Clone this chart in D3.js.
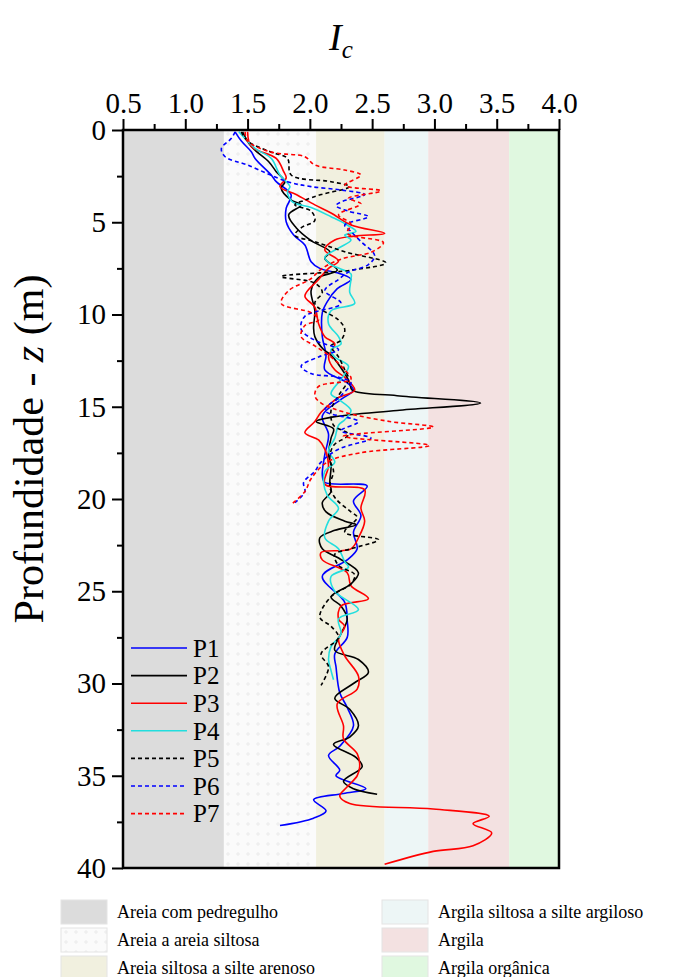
<!DOCTYPE html>
<html>
<head>
<meta charset="utf-8">
<script src="https://cdn.jsdelivr.net/npm/d3@7"></script>
<style>
  body { margin: 0; background: #fff; }
  text { font-family: "Liberation Serif", "Times New Roman", serif; fill: #000; }
</style>
</head>
<body>
<div id="chart"></div>
<script>
// soil behaviour zones (Ic limits)
const zoneNames = ["Areia com pedregulho", "Areia a areia siltosa", "Areia siltosa a silte arenoso",
    "Argila siltosa a silte argiloso", "Argila", "Argila orgânica"];
const zoneLimits = [0.5, 1.31, 2.05, 2.60, 2.95, 3.60, 4.0];
const zoneColors = ["#dcdcdc", "#fbfbfb", "#f1f0df", "#edf6f6", "#f3e1e1", "#e0f8e0"];

const xTicks = [0.5, 1.0, 1.5, 2.0, 2.5, 3.0, 3.5, 4.0];
const yTicks = [0, 5, 10, 15, 20, 25, 30, 35, 40];

const seriesNames = ["P1", "P2", "P3", "P4", "P5", "P6", "P7"];
const seriesColors = ["#0000ff", "#000000", "#ff0000", "#22dede", "#000000", "#0000ff", "#ff0000"];
const seriesDashed = [false, false, false, false, true, true, true];

// [depth z (m), Ic]
const p1 = [[0.1,1.40],[0.6,1.45],[1.18,1.53],[1.54,1.56],[2.44,1.69],[2.8,1.73],[3.52,1.85],[4.24,1.81],[4.97,1.81],[5.69,1.87],[6.23,1.96],[7.14,2.01],[7.5,2.08],[7.8,2.25],[8.1,2.33],[8.6,2.22],[9.3,2.14],[9.9,2.10],[11.2,2.10],[12.2,2.13],[13.0,2.12],[13.7,2.30],[14.1,2.35],[14.6,2.25],[15.5,2.10],[16.5,2.15],[17.6,2.12],[18.7,2.10],[19.1,2.12],[19.3,2.46],[20.1,2.35],[20.9,2.41],[21.8,2.35],[22.7,2.38],[23.3,2.30],[24.2,2.10],[25.6,2.28],[26.6,2.30],[27.5,2.30],[28.4,2.20],[29.1,2.21],[30.5,2.24],[31.3,2.30],[32.3,2.35],[33.4,2.24],[33.9,2.15],[34.7,2.24],[35.0,2.21],[35.7,2.45],[35.96,2.27],[36.3,2.03],[36.9,2.13],[37.3,2.03],[37.7,1.76]];
const p2 = [[0.1,1.46],[0.9,1.53],[1.72,1.67],[2.26,1.73],[2.8,1.80],[3.16,1.77],[3.8,1.85],[4.06,1.93],[4.6,1.83],[5.3,1.89],[6.0,2.01],[6.6,2.16],[6.96,2.12],[7.6,2.22],[8.0,2.07],[8.7,2.01],[9.8,2.04],[10.7,2.03],[11.2,2.04],[11.9,2.11],[12.2,2.17],[13.2,2.28],[13.7,2.32],[14.1,2.34],[14.4,2.7],[14.8,3.37],[15.2,2.7],[15.55,2.19],[15.8,2.05],[16.2,2.19],[16.7,2.17],[17.6,2.15],[18.2,2.17],[19.1,2.16],[19.6,2.17],[20.2,2.10],[20.7,2.13],[21.2,2.28],[21.4,2.37],[21.7,2.20],[22.1,2.08],[22.7,2.10],[23.2,2.23],[24.0,2.39],[24.6,2.33],[25.3,2.17],[25.8,2.25],[26.5,2.30],[27.3,2.25],[28.2,2.20],[28.7,2.39],[29.4,2.47],[30.0,2.35],[30.8,2.20],[31.4,2.32],[32.3,2.39],[32.9,2.32],[33.3,2.19],[34.0,2.37],[34.5,2.42],[35.3,2.27],[35.7,2.35],[36.0,2.54]];
const p3 = [[0.1,1.50],[0.9,1.53],[1.54,1.73],[2.26,1.79],[2.6,1.81],[3.07,1.76],[3.5,1.89],[4.06,2.04],[4.5,2.17],[5.15,2.33],[5.6,2.60],[5.75,2.36],[5.96,2.20],[6.5,2.12],[7.1,2.23],[7.5,2.15],[8.1,2.07],[9.0,1.96],[9.6,2.04],[10.5,2.07],[11.2,2.12],[11.6,2.20],[12.3,2.15],[13.0,2.20],[13.4,2.28],[14.1,2.36],[14.5,2.23],[14.8,2.17],[15.3,2.09],[15.8,2.04],[16.4,1.96],[16.8,2.07],[17.3,2.12],[18.2,2.15],[19.2,2.12],[19.5,2.44],[20.5,2.41],[21.2,2.44],[22.1,2.39],[22.7,2.33],[22.9,2.09],[23.3,2.10],[24.0,2.30],[24.7,2.33],[25.4,2.47],[25.8,2.25],[26.5,2.23],[26.9,2.28],[27.6,2.23],[28.5,2.28],[29.6,2.39],[30.3,2.38],[31.1,2.22],[32.3,2.27],[33.0,2.27],[33.8,2.38],[34.5,2.40],[35.0,2.38],[35.6,2.30],[36.1,2.24],[36.5,2.32],[36.8,2.99],[37.2,3.44],[37.6,3.31],[38.1,3.46],[38.8,3.31],[39.1,2.99],[39.8,2.60]];
const p4 = [[0.1,1.43],[1.0,1.56],[1.54,1.69],[2.44,1.76],[3.07,1.84],[3.34,1.82],[3.9,1.86],[4.2,2.01],[4.7,2.17],[5.15,2.30],[5.5,2.37],[5.7,2.28],[5.96,2.33],[6.4,2.23],[6.9,2.12],[7.3,2.17],[7.8,2.33],[8.1,2.33],[8.8,2.32],[9.4,2.36],[9.8,2.17],[10.5,2.15],[11.2,2.23],[11.6,2.25],[11.9,2.17],[12.3,2.20],[12.8,2.31],[13.5,2.25],[14.3,2.17],[14.6,2.23],[15.2,2.33],[15.7,2.28],[16.0,2.23],[16.7,2.20],[17.4,2.15],[18.0,2.20],[18.5,2.12],[19.1,2.11],[19.8,2.14],[20.5,2.23],[21.2,2.15],[22.1,2.12],[22.7,2.23],[23.4,2.28],[23.7,2.31],[24.2,2.17],[25.0,2.20],[26.0,2.39],[26.5,2.23],[27.3,2.25],[28.0,2.17],[28.7,2.15],[29.3,2.17],[29.8,2.19]];
const p5 = [[0.1,1.45],[0.6,1.50],[1.2,1.69],[1.54,1.82],[2.44,1.85],[2.8,2.17],[3.07,2.32],[3.5,2.09],[3.8,1.96],[4.06,1.88],[4.4,2.01],[4.9,2.04],[5.3,1.93],[5.7,1.88],[6.05,2.04],[6.6,2.28],[7.2,2.61],[7.6,2.33],[7.95,1.77],[8.3,2.04],[8.8,2.10],[9.4,2.04],[10.3,2.23],[10.8,2.28],[11.4,2.25],[11.7,2.17],[12.3,2.23],[13.0,2.28],[13.5,2.31],[14.4,2.23],[15.2,2.17],[16.0,2.19],[16.5,2.31],[17.1,2.19],[17.8,2.16],[18.5,2.19],[19.3,2.16],[20.0,2.21],[20.7,2.33],[21.0,2.38],[21.8,2.28],[22.2,2.55],[22.7,2.33],[23.0,2.20],[23.6,2.23],[24.1,2.36],[24.6,2.33],[25.3,2.17],[26.4,2.08],[26.9,2.17],[27.5,2.23],[28.4,2.09],[29.1,2.15],[30.1,2.09]];
const p6 = [[0.1,1.40],[0.45,1.37],[1.0,1.29],[1.45,1.32],[1.9,1.50],[2.8,1.82],[3.07,2.01],[3.25,2.25],[3.5,2.44],[3.9,2.25],[4.1,2.21],[4.4,2.31],[4.7,2.47],[5.15,2.28],[5.5,2.33],[6.05,2.41],[6.8,2.52],[7.3,2.47],[7.7,2.31],[8.1,2.23],[8.7,2.12],[9.4,2.25],[10.1,1.96],[10.8,1.93],[11.4,2.04],[11.9,2.23],[12.3,2.07],[12.8,1.93],[13.2,2.01],[13.4,2.23],[13.7,2.33],[14.4,2.25],[15.2,2.12],[15.8,2.39],[16.3,2.25],[16.7,2.49],[17.3,2.23],[18.0,2.09],[18.5,2.04],[19.1,1.95],[19.6,1.96],[20.2,1.88]];
const p7 = [[0.1,1.48],[0.6,1.50],[1.2,1.69],[1.45,1.96],[1.9,2.04],[2.17,2.28],[2.44,2.41],[3.0,2.28],[3.3,2.57],[3.7,2.31],[4.0,2.41],[4.6,2.23],[5.1,2.33],[5.6,2.30],[6.1,2.59],[6.6,2.50],[7.0,2.25],[7.5,2.10],[8.1,2.00],[8.7,1.83],[9.4,1.77],[9.9,2.01],[10.3,2.07],[10.6,1.96],[11.2,1.93],[11.7,2.04],[12.3,2.17],[13.0,2.28],[13.5,2.33],[13.9,2.07],[14.4,2.04],[14.8,2.09],[15.3,2.28],[15.8,2.64],[16.1,2.99],[16.6,2.27],[17.1,2.96],[17.5,2.40],[18.0,2.14],[18.9,2.01],[19.6,1.96],[20.3,1.85]];
const allSeries = [p1, p2, p3, p4, p5, p6, p7];

const W = 680, H = 977;
const margin = {top: 130, left: 123, right: 121, bottom: 109};
const width = W - margin.left - margin.right;
const height = H - margin.top - margin.bottom;

var svg = d3.select("#chart").append("svg")
    .attr("width", W)
    .attr("height", H);

var defs = svg.append("defs");
var pat = defs.append("pattern")
    .attr("id", "dots")
    .attr("patternUnits", "userSpaceOnUse")
    .attr("width", 10).attr("height", 10);
pat.append("rect").attr("width", 10).attr("height", 10).attr("fill", zoneColors[1]);
pat.append("path").attr("d", "M3,4h4M5,2v4").attr("stroke", "#ececec").attr("stroke-width", 1);

defs.append("clipPath").attr("id", "plotclip")
    .append("rect").attr("width", width).attr("height", height);

var x = d3.scaleLinear().domain([0.5, 4.0]).range([0, width]);
var y = d3.scaleLinear().domain([0, 40]).range([0, height]);

var g = svg.append("g").attr("transform", "translate(" + margin.left + "," + margin.top + ")");

// zone bands
g.selectAll("rect.zone")
    .data(zoneNames)
    .enter()
    .append("rect")
    .attr("class", "zone")
    .attr("x", (d, i) => x(zoneLimits[i]))
    .attr("width", (d, i) => x(zoneLimits[i + 1]) - x(zoneLimits[i]))
    .attr("y", 0)
    .attr("height", height)
    .attr("fill", (d, i) => i == 1 ? "url(#dots)" : zoneColors[i]);

// profiles
var line = d3.line()
    .x(d => x(d[1]))
    .y(d => y(d[0]))
    .curve(d3.curveCatmullRom.alpha(0.5));

g.append("g").attr("clip-path", "url(#plotclip)")
    .selectAll("path")
    .data(allSeries)
    .enter()
    .append("path")
    .attr("d", line)
    .attr("fill", "none")
    .attr("stroke", (d, i) => seriesColors[i])
    .attr("stroke-width", 1.6)
    .attr("stroke-dasharray", (d, i) => seriesDashed[i] ? "4,3" : null);

// axes
var xAxis = d3.axisTop(x).tickValues(xTicks).tickFormat(d3.format(".1f")).tickSize(11).tickPadding(6);
var xMinor = d3.axisTop(x).tickValues(d3.range(0.75, 4.0, 0.5)).tickFormat("").tickSize(6);
var yAxis = d3.axisLeft(y).tickValues(yTicks).tickSize(11).tickPadding(6);
var yMinor = d3.axisLeft(y).tickValues(d3.range(2.5, 40, 5)).tickFormat("").tickSize(6);

[g.append("g").call(xAxis), g.append("g").call(xMinor),
 g.append("g").call(yAxis), g.append("g").call(yMinor)].forEach(a => {
    a.selectAll("path").remove();
    a.selectAll("line").attr("stroke", "#000").attr("stroke-width", 2);
    a.selectAll("text").style("font-size", "29px").attr("fill", "#000");
});

// frame
g.append("rect")
    .attr("width", width).attr("height", height)
    .attr("fill", "none").attr("stroke", "#000").attr("stroke-width", 2.5);

// titles
var xt = svg.append("text")
    .attr("x", margin.left + width / 2)
    .attr("y", 50)
    .attr("text-anchor", "middle")
    .style("font-size", "38px")
    .style("font-style", "italic");
xt.append("tspan").text("I");
xt.append("tspan").attr("dy", 8).style("font-size", "25px").text("c");

var yt = svg.append("text")
    .attr("transform", "translate(43,449) rotate(-90)")
    .attr("text-anchor", "middle")
    .style("font-size", "42px");
yt.append("tspan").text("Profundidade - ");
yt.append("tspan").style("font-style", "italic").text("z");
yt.append("tspan").text(" (m)");

// series legend inside plot
var leg = g.selectAll("g.leg")
    .data(seriesNames)
    .enter()
    .append("g")
    .attr("class", "leg")
    .attr("transform", (d, i) => "translate(8," + (518 + i * 27.6) + ")");
leg.append("line")
    .attr("x1", 0).attr("x2", 56)
    .attr("stroke", (d, i) => seriesColors[i])
    .attr("stroke-width", 1.6)
    .attr("stroke-dasharray", (d, i) => seriesDashed[i] ? "4,3" : null);
leg.append("text")
    .attr("x", 62).attr("dy", "0.35em")
    .style("font-size", "25px")
    .text(d => d);

// zone legend below
var zl = svg.selectAll("g.zleg")
    .data(zoneNames)
    .enter()
    .append("g")
    .attr("class", "zleg")
    .attr("transform", (d, i) => "translate(" + (i < 3 ? 61 : 382) + "," + (900 + (i % 3) * 28) + ")");
zl.append("rect")
    .attr("width", 46).attr("height", 24)
    .attr("fill", (d, i) => i == 1 ? "url(#dots)" : zoneColors[i])
    .attr("stroke", "#e4e4e4");
zl.append("text")
    .attr("x", 56).attr("y", 12).attr("dy", "0.35em")
    .style("font-size", "18px")
    .text(d => d);
</script>
</body>
</html>
